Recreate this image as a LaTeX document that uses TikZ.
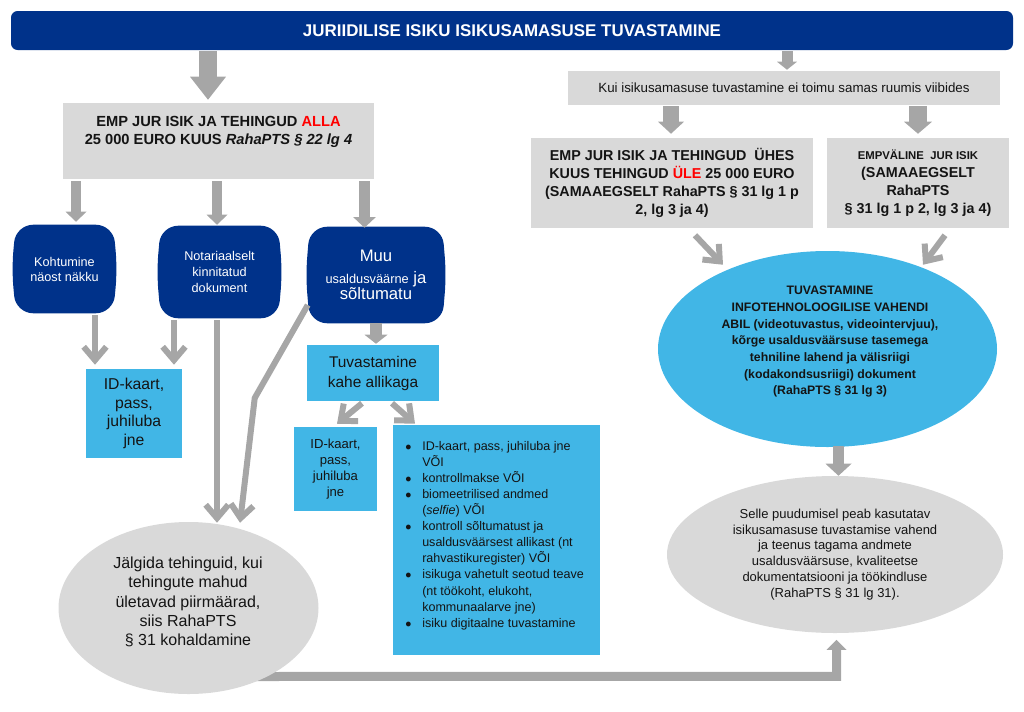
\documentclass[tikz,border=0pt]{standalone}
\usepackage{fontspec}
\setmainfont{Liberation Sans}
\usetikzlibrary{arrows.meta,calc,shapes.geometric,backgrounds}
\definecolor{dblue}{RGB}{0,50,138}
\definecolor{lblue}{RGB}{65,182,230}
\definecolor{lgray}{RGB}{217,217,217}
\definecolor{agray}{RGB}{166,166,166}
\definecolor{red1}{RGB}{255,0,0}
\definecolor{txt}{RGB}{20,20,20}
\newcommand\fs[2]{\fontsize{#1}{#2}\selectfont}
\newcommand\bulgeshape[1]{\fill[dblue,rounded corners=13pt] ($(#1.north west)+(4,0)$) -- ($(#1.north east)+(-4,0)$) -- (#1.east) -- ($(#1.south east)+(-4,0)$) -- ($(#1.south west)+(4,0)$) -- (#1.west) -- cycle;}
\newcommand\lstitem{\makebox[12.75pt][l]{$\bullet$}}
\newcommand\lstind{\hspace*{12.75pt}}
\begin{document}
\begin{tikzpicture}[x=0.75pt,y=-0.75pt,
  box/.style={fill=lgray,inner sep=0pt,align=center,text=txt},
  lbox/.style={fill=lblue,inner sep=0pt,align=center,text=txt},
  dnode/.style={inner sep=0pt,align=center,text=white},
  ba/.style n args={3}{draw=agray,line width=#1,-{Triangle[length=#3,width=#2,line width=0pt]}},
  varrow/.style={draw=agray,line width=4.5pt,-{Straight Barb[length=10pt,width=17pt]}}]
\useasboundingbox (0,0) rectangle (1024,711);

% title
\node[fill=dblue,rounded corners=5pt,minimum width=751.5pt,minimum height=29.25pt,inner sep=0pt,text=white,font=\bfseries\fs{12.7pt}{15pt}] (title) at (512,30.5) {JURIIDILISE ISIKU ISIKUSAMASUSE TUVASTAMINE};

% left branch
\node[box,minimum width=233.25pt,minimum height=57pt] (b1) at (218.5,141) {};
\node[inner sep=0pt,align=center,text=txt,font=\bfseries\fs{11pt}{13.5pt}] (b1t) at (218.5,132) {EMP JUR ISIK JA TEHINGUD \textcolor{red1}{ALLA}\\25 000 EURO KUUS \textit{RahaPTS § 22 lg 4}};

\node[dnode,minimum width=78.75pt,minimum height=66pt,font=\fs{9.5pt}{11.25pt}] (k) at (64.5,269) {Kohtumine\\näost näkku};
\node[dnode,minimum width=93.75pt,minimum height=69pt,font=\fs{9.5pt}{12pt}] (n) at (219.5,272) {Notariaalselt\\kinnitatud\\dokument};
\node[dnode,minimum width=105pt,minimum height=72pt,font=\fs{12.5pt}{12pt}] (m) at (376,275) {Muu\\[4pt]{\fs{9.6pt}{12pt}usaldusväärne} ja\\sõltumatu};

\node[lbox,minimum width=72pt,minimum height=66.75pt,font=\fs{11.8pt}{13.9pt}] (id1) at (134,413.5) {ID-kaart,\\pass,\\juhiluba\\jne};
\node[lbox,minimum width=99pt,minimum height=42pt,font=\fs{11.6pt}{15pt}] (tk) at (373,373) {Tuvastamine\\kahe allikaga};
\node[lbox,minimum width=62.25pt,minimum height=63pt,font=\fs{9.8pt}{12pt}] (id2) at (335.5,469) {ID-kaart,\\pass,\\juhiluba\\jne};
\node[lbox,minimum width=155.25pt,minimum height=172.5pt] (list) at (496.5,540) {};
\node[anchor=west,inner sep=0pt,align=left,text=txt,font=\fs{9.4pt}{12.07pt}] (listt) at (405,535.5) {\lstitem ID-kaart, pass, juhiluba jne\\\lstind VÕI\\\lstitem kontrollmakse VÕI\\\lstitem biomeetrilised andmed\\\lstind(\textit{selfie}) VÕI\\\lstitem kontroll sõltumatust ja\\\lstind usaldusväärsest allikast (nt\\\lstind rahvastikuregister) VÕI\\\lstitem isikuga vahetult seotud teave\\\lstind(nt töökoht, elukoht,\\\lstind kommunaalarve jne)\\\lstitem isiku digitaalne tuvastamine};

\node[ellipse,fill=lgray,minimum width=195pt,minimum height=129pt,inner sep=0pt] (ell1) at (188.5,608) {};
\node[inner sep=0pt,align=center,text=txt,font=\fs{12pt}{14.5pt}] (ell1t) at (188,602) {Jälgida tehinguid, kui\\tehingute mahud\\ületavad piirmäärad,\\siis RahaPTS\\§ 31 kohaldamine};

% right branch
\node[box,minimum width=324pt,minimum height=25.5pt,font=\fs{10pt}{12pt}] (kui) at (784,88) {Kui isikusamasuse tuvastamine ei toimu samas ruumis viibides};
\node[box,minimum width=211.5pt,minimum height=67.5pt,font=\bfseries\fs{10.75pt}{13.5pt}] (b2) at (672,183) {EMP JUR ISIK JA TEHINGUD\ \ ÜHES\\KUUS TEHINGUD \textcolor{red1}{ÜLE} 25 000 EURO\\(SAMAAEGSELT RahaPTS § 31 lg 1 p\\2, lg 3 ja 4)};
\node[box,minimum width=136.5pt,minimum height=67.5pt,font=\bfseries\fs{10.75pt}{13.5pt}] (b3) at (918,183) {{\fs{8.5pt}{10pt}EMPVÄLINE\ \ JUR ISIK}\\(SAMAAEGSELT\\RahaPTS\\§ 31 lg 1 p 2, lg 3 ja 4)};

\node[ellipse,fill=lblue,minimum width=254.25pt,minimum height=147pt,inner sep=0pt] (be) at (827.5,349) {};
\node[inner sep=0pt,align=center,text=txt,font=\bfseries\fs{9.2pt}{12.5pt}] (bet) at (830,342) {TUVASTAMINE\\INFOTEHNOLOOGILISE VAHENDI\\ABIL (videotuvastus, videointervjuu),\\kõrge usaldusväärsuse tasemega\\tehniline lahend ja välisriigi\\(kodakondsusriigi) dokument\\(RahaPTS § 31 lg 3)};

\node[ellipse,fill=lgray,minimum width=252pt,minimum height=117.75pt,inner sep=0pt,align=center,text=txt,font=\fs{9.75pt}{11.9pt}] (ell2) at (835,554.5) {Selle puudumisel peab kasutatav\\isikusamasuse tuvastamise vahend\\ja teenus tagama andmete\\usaldusväärsuse, kvaliteetse\\dokumentatsiooni ja töökindluse\\(RahaPTS § 31 lg 31).};

% background shapes and bottom connector
\begin{scope}[on background layer]
\bulgeshape{k}
\bulgeshape{n}
\bulgeshape{m}
\draw[draw=agray,line width=6.75pt,-{Triangle[length=7.5pt,width=15pt,line width=0pt]}] ($(ell1.center)+(60,68.5)$) -- ($(ell2.south)+(1.5,43)$) -- ($(ell2.south)+(1.5,6.5)$);
\end{scope}

% block arrows
\draw[ba={13.5pt}{27pt}{17.25pt}] ($(b1.north |- title.south)+(-10.5,1)$) -- ($(b1.north)+(-10.5,-3)$);
\draw[ba={8.25pt}{15pt}{6pt}] ($(kui.north |- title.south)+(3,1)$) -- ($(kui.north)+(3,-1)$);
\draw[ba={12pt}{19.5pt}{9pt}] ($(b2.north |- kui.south)+(-1,1)$) -- ($(b2.north)+(-1,-4)$);
\draw[ba={13pt}{21pt}{9pt}] ($(b3.north |- kui.south)+(0,1)$) -- ($(b3.north)+(0,-4)$);
\draw[ba={7.5pt}{15.75pt}{7.5pt}] ($(k.north |- b1.south)+(11.5,2)$) -- ($(k.north)+(11.5,-3)$);
\draw[ba={7.5pt}{15.75pt}{7.5pt}] ($(n.north |- b1.south)+(-2.5,2)$) -- ($(n.north)+(-2.5,-1)$);
\draw[ba={8.25pt}{17pt}{8pt}] ($(m.north |- b1.south)+(-11.5,2)$) -- ($(m.north)+(-11.5,1)$);
\draw[ba={9pt}{17.25pt}{6.75pt}] (m.south) -- ($(tk.north -| m.south)+(0,-1)$);
\draw[ba={8.25pt}{19.5pt}{9pt}] ($(be.south)+(11,-1)$) -- ($(ell2.north)+(3.5,0)$);

% line arrows
\draw[varrow] ($(k.south)+(30.5,2)$) -- ($(id1.north)+(-39,-4)$);
\draw[varrow] ($(n.south)+(-45.5,2)$) -- ($(id1.north)+(40,-4)$);
\draw[varrow] ($(n.south)+(-2.5,2)$) -- ($(ell1.north)+(28.5,1)$);
\draw[varrow] ($(m.west)+(2,30)$) -- ($(m.west)+(-51,123)$) -- ($(ell1.north)+(51.5,1)$);
\draw[varrow] ($(tk.south)+(-11,2)$) -- ($(id2.north)+(1.5,-3)$);
\draw[varrow] ($(tk.south)+(19,2)$) -- ($(list.north)+(-81.5,-1)$);
\draw[varrow] ($(b2.south)+(23,7)$) -- ($(be.north)+(-104.5,14)$);
\draw[varrow] ($(b3.south)+(27,7)$) -- ($(be.north)+(95.5,14)$);
\end{tikzpicture}
\end{document}
